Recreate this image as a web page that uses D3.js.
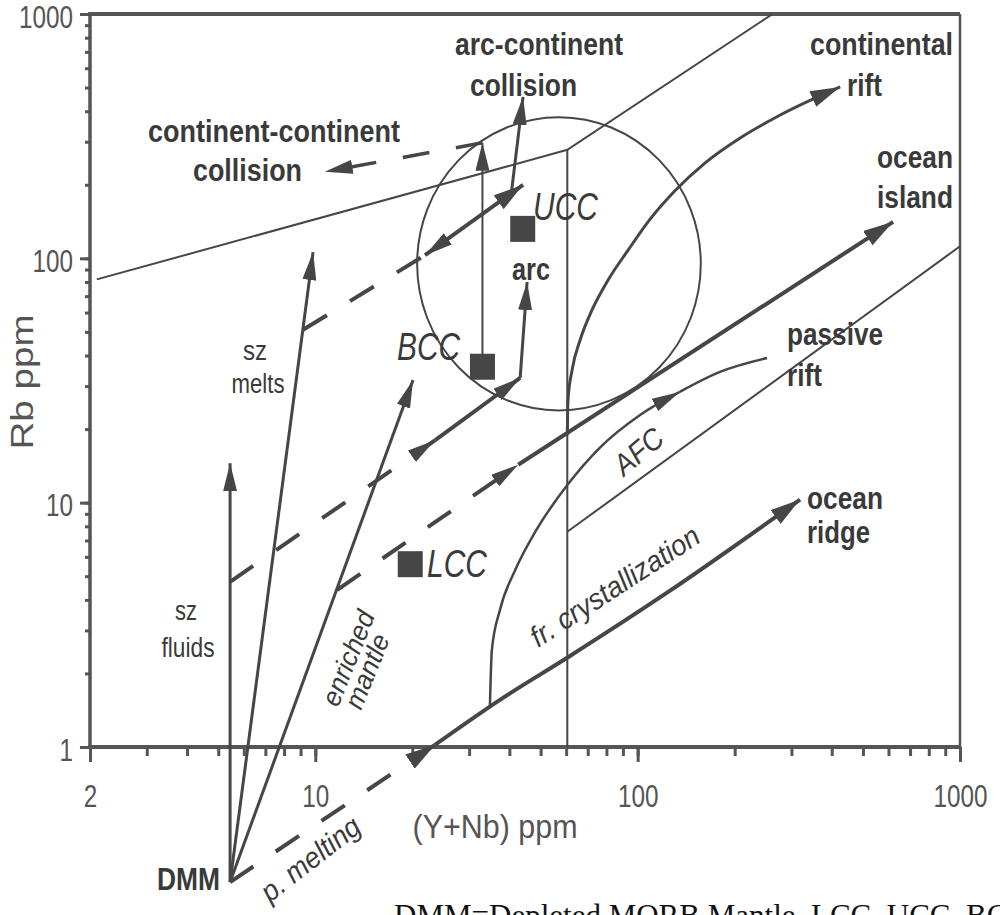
<!DOCTYPE html>
<html>
<head>
<meta charset="utf-8">
<script src="https://cdn.jsdelivr.net/npm/d3@7"></script>
<style>
  html, body { margin: 0; padding: 0; background: #fff; }
  svg { display: block; }
  text { font-family: "Liberation Sans", Arial, Helvetica, sans-serif; }
</style>
</head>
<body>
<div id="chart"></div>
<script>
// ---- data: (Y+Nb) ppm, Rb ppm ----
var xTickLabels = [2, 10, 100, 1000]
var yTickLabels = [1, 10, 100, 1000]

var dmm = [5.44, 0.28]

// vectors from depleted mantle
var szFluids = [dmm, [5.44, 14.5]]
var szMelts = [dmm, [9.84, 106]]
var enrichedMantle = [dmm, [20.1, 31.8]]
var partialMelting = [dmm, [23.5, 1.02]]
var frCrystallization = [[23.5, 1.02], [37.4, 1.56], [60.8, 2.33], [123, 4.27], [319, 10.3]]

// melting trends from enriched sources
var fluidTrendMelting = [[5.44, 4.74], [23.5, 18]]
var fluidTrendCryst = [[23.5, 18], [43.2, 32.4]]
var arcVector = [[43.2, 32.4], [45.4, 80]]
var meltTrendMelting = [[9.16, 51], [21.9, 103]]
var meltTrendCryst = [[21.9, 103], [44.1, 200]]
var arcContinentVector = [[40.5, 182], [44.1, 458]]
var enrichedTrendMelting = [[11.7, 4.4], [42.6, 14.3]]
var oceanIslandVector = [[42.6, 14.3], [620, 141]]
var continentalRiftVector = [[60.5, 18.9], [60.8, 26.3], [62.6, 34.9], [66.3, 46.3], [72.2, 61.5], [81, 81.6],
    [93.4, 108], [109, 144], [131, 190], [162, 246], [208, 311], [277, 386], [425, 503]]
var afcVector = [[34.8, 1.46], [35.3, 2.5], [37.4, 3.64], [41.7, 5.3], [48.1, 7.59], [60.5, 11.8],
    [76.4, 16.8], [102, 22.9], [135, 28.4]]
var afcVectorEnd = [[135, 28.4], [180, 34.3], [252, 39.1]]
var bccVector = [[33, 36], [33, 297]]
var continentCollision = [[33, 297], [10.7, 226]]

// field boundaries
var boundaryCollision = [[2.1, 82], [60.5, 278], [262, 1000]]
var boundaryVertical = [[60.5, 1], [60.5, 278]]
var boundaryWithinPlate = [[60.5, 7.6], [1000, 112]]
var arcFieldCentre = [57, 95]
var arcFieldHalfDecades = [0.44, 0.6]

// crust compositions
var crustNames = ["BCC", "UCC", "LCC"]
var crustYNb = [33, 44, 19.7]
var crustRb = [36, 132, 5.6]

// ---- chart ----
var width = 1000
var height = 915
var ink = "#464646"
var textInk = "#3a3a3a"
var axisInk = "#555"

var x = d3.scaleLog().domain([2, 1000]).range([90, 960])
var y = d3.scaleLog().domain([1, 1000]).range([747, 14])

var svg = d3.select('#chart').append('svg')
    .attr('width', width)
    .attr('height', height)

var defs = svg.append('defs')
function addMarker (id, len, wid) {
    defs.append('marker')
        .attr('id', id)
        .attr('viewBox', '0 0 ' + len + ' ' + wid)
        .attr('refX', len)
        .attr('refY', wid / 2)
        .attr('markerWidth', len)
        .attr('markerHeight', wid)
        .attr('markerUnits', 'userSpaceOnUse')
        .attr('orient', 'auto-start-reverse')
        .append('path')
            .attr('d', 'M0,0L' + len + ',' + (wid / 2) + 'L0,' + wid + 'Z')
            .attr('fill', ink)
}
addMarker('head', 28, 14)
addMarker('headBig', 30, 17)

var straight = d3.line().x(d => x(d[0])).y(d => y(d[1]))
var smooth = d3.line().x(d => x(d[0])).y(d => y(d[1])).curve(d3.curveMonotoneX)

function drawPath (data, w, opt) {
    opt = opt || {}
    return svg.append('path')
        .datum(data)
        .attr('d', opt.curved ? smooth : straight)
        .attr('fill', 'none')
        .attr('stroke', ink)
        .attr('stroke-width', w)
        .attr('stroke-dasharray', opt.dash || null)
        .attr('marker-start', opt.start ? 'url(#' + opt.start + ')' : null)
        .attr('marker-end', opt.end ? 'url(#' + opt.end + ')' : null)
}

// axes: minor + major ticks
function styleAxis (g) {
    g.select('.domain').remove()
    g.selectAll('line').attr('stroke', axisInk).attr('stroke-width', 3)
    g.attr('font-size', 31)
    g.selectAll('text')
        .attr('fill', axisInk)
        .attr('textLength', d => String(d).length * 13.5)
        .attr('lengthAdjust', 'spacingAndGlyphs')
}

svg.append('g').attr('transform', 'translate(0,' + y(1) + ')')
    .call(d3.axisBottom(x).tickValues(x.ticks()).tickSize(9).tickFormat(''))
    .call(styleAxis)
svg.append('g').attr('transform', 'translate(0,' + y(1) + ')')
    .call(d3.axisBottom(x).tickValues(xTickLabels).tickSize(15).tickPadding(23).tickFormat(d3.format('d')))
    .call(styleAxis)
svg.append('g').attr('transform', 'translate(' + x(2) + ',0)')
    .call(d3.axisLeft(y).tickValues(y.ticks()).tickSize(5).tickFormat(''))
    .call(styleAxis)
svg.append('g').attr('transform', 'translate(' + x(2) + ',0)')
    .call(d3.axisLeft(y).tickValues(yTickLabels).tickSize(10).tickPadding(7).tickFormat(d3.format('d')))
    .call(styleAxis)
    .selectAll('text').attr('dy', '0.42em')

// frame
svg.append('line').attr('x1', x(2)).attr('x2', x(1000)).attr('y1', y(1000)).attr('y2', y(1000))
    .attr('stroke', axisInk).attr('stroke-width', 4)
svg.append('line').attr('x1', x(1000)).attr('x2', x(1000)).attr('y1', y(1000)).attr('y2', y(1))
    .attr('stroke', axisInk).attr('stroke-width', 2.5)
svg.append('line').attr('x1', x(2)).attr('x2', x(2)).attr('y1', y(1000) - 2).attr('y2', y(1) + 2)
    .attr('stroke', axisInk).attr('stroke-width', 3.5)
svg.append('line').attr('x1', x(2) - 2).attr('x2', x(1000) + 1).attr('y1', y(1)).attr('y2', y(1))
    .attr('stroke', axisInk).attr('stroke-width', 4)

// field boundaries
drawPath(boundaryCollision, 2)
drawPath(boundaryVertical, 2)
drawPath(boundaryWithinPlate, 2)
svg.append('ellipse')
    .attr('cx', x(arcFieldCentre[0]))
    .attr('cy', y(arcFieldCentre[1]))
    .attr('rx', x(arcFieldCentre[0] * Math.pow(10, arcFieldHalfDecades[0])) - x(arcFieldCentre[0]))
    .attr('ry', y(arcFieldCentre[1]) - y(arcFieldCentre[1] * Math.pow(10, arcFieldHalfDecades[1])))
    .attr('fill', 'none').attr('stroke', ink).attr('stroke-width', 2)

// vectors
drawPath(szFluids, 3, {end: 'head'})
drawPath(szMelts, 3, {end: 'head'})
drawPath(enrichedMantle, 3, {end: 'head'})
drawPath(partialMelting, 4, {dash: '28,27', end: 'headBig'})
drawPath(frCrystallization, 4, {curved: true, end: 'headBig'})

drawPath(fluidTrendMelting, 4, {dash: '28,28', end: 'head'})
drawPath(fluidTrendCryst, 4, {end: 'head'})
drawPath(arcVector, 3, {end: 'head'})
drawPath(meltTrendMelting, 4, {dash: '28,27'})
drawPath(meltTrendCryst, 4, {start: 'head', end: 'headBig'})
drawPath(arcContinentVector, 3, {end: 'head'})
drawPath(enrichedTrendMelting, 4, {dash: '28,27', end: 'head'})
drawPath(oceanIslandVector, 4, {end: 'headBig'})
drawPath(continentalRiftVector, 3, {curved: true, end: 'headBig'})
drawPath(afcVector, 2.5, {curved: true, end: 'head'})
drawPath(afcVectorEnd, 2.5, {curved: true})
drawPath(bccVector, 2, {end: 'head'})
drawPath(continentCollision, 3.5, {dash: '27,27', end: 'head'})

// crust squares
svg.selectAll('.crust')
    .data(crustNames)
    .enter()
    .append('rect')
        .attr('class', 'crust')
        .attr('x', (d, i) => x(crustYNb[i]) - 12.5)
        .attr('y', (d, i) => y(crustRb[i]) - 13)
        .attr('width', 25)
        .attr('height', 26)
        .attr('fill', ink)

// ---- labels ----
function label (str, px, py, size, len, opt) {
    opt = opt || {}
    var t = svg.append('text')
        .attr('x', px)
        .attr('y', py)
        .attr('font-size', size)
        .attr('fill', opt.fill || textInk)
        .attr('font-weight', opt.bold ? 'bold' : null)
        .attr('font-style', opt.italic ? 'italic' : null)
        .attr('text-anchor', opt.anchor || 'start')
        .attr('textLength', len)
        .attr('lengthAdjust', 'spacingAndGlyphs')
        .text(str)
    if (opt.rotate) t.attr('transform', 'rotate(' + opt.rotate + ',' + px + ',' + py + ')')
    return t
}

var b = {bold: true}
label('continent-continent', 148, 142, 32, 252, b)
label('collision', 193, 181, 32, 109, b)
label('arc-continent', 455, 55, 32, 168, b)
label('collision', 470, 96, 32, 107, b)
label('continental', 810, 55, 32, 143, b)
label('rift', 847, 96, 32, 35, b)
label('ocean', 877, 168, 32, 76, b)
label('island', 877, 208, 32, 76, b)
label('passive', 787, 345, 32, 96, b)
label('rift', 787, 386, 32, 35, b)
label('ocean', 807, 509, 32, 76, b)
label('ridge', 807, 543, 32, 63, b)
label('arc', 512, 280, 32, 38, b)
label('DMM', 157, 890, 32, 63, b)

label('sz', 186, 620, 27, 22, {anchor: 'middle'})
label('fluids', 188, 657, 27, 53, {anchor: 'middle'})
label('sz', 255, 360, 27, 24, {anchor: 'middle'})
label('melts', 258, 393, 27, 53, {anchor: 'middle'})

var it = {italic: true}
var crustLabelPos = {BCC: [397, 360, 63], UCC: [533, 220, 65], LCC: [427, 577, 60]}
crustNames.forEach(function (name) {
    var pos = crustLabelPos[name]
    label(name, pos[0], pos[1], 38, pos[2], it)
})

label('AFC', 624, 477, 30, 55, {italic: true, rotate: -40})
label('fr. crystallization', 538, 648, 29, 196, {italic: true, rotate: -33})
label('p. melting', 270, 903, 29, 118, {italic: true, rotate: -38})
label('enriched', 338, 708, 27, 100, {italic: true, rotate: -68})
label('mantle', 361, 711, 27, 78, {italic: true, rotate: -68})

// axis titles
label('Rb ppm', 33, 382, 32, 135, {anchor: 'middle', rotate: -90, fill: axisInk})
label('(Y+Nb) ppm', 495, 838, 33, 165, {anchor: 'middle', fill: axisInk})

// caption, cut by the page edge as in the scan
svg.append('text')
    .attr('x', 394)
    .attr('y', 926)
    .style('font-family', '"Liberation Serif", "Times New Roman", serif')
    .attr('font-size', 31)
    .attr('fill', '#111')
    .text('DMM=Depleted MORB Mantle, LCC, UCC, BCC=Lower, Upper, Bulk Continental Crust')
</script>
</body>
</html>
